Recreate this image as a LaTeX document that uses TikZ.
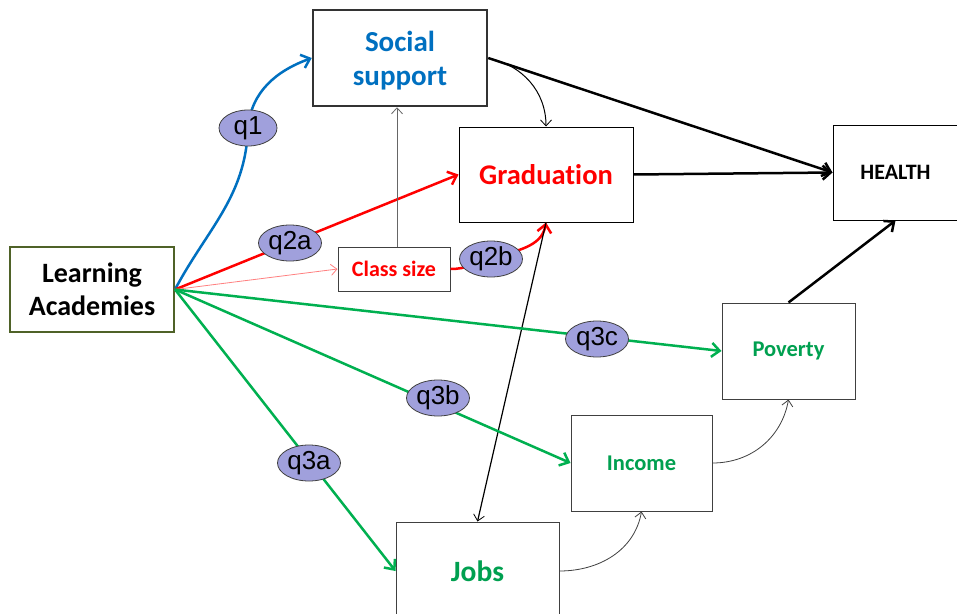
\documentclass[tikz,border=0pt]{standalone}
\usepackage{fontspec}
\setmainfont{Carlito}[Ligatures=NoCommon]
\newfontfamily\qfont{Liberation Sans}
\usetikzlibrary{shapes.geometric,arrows.meta}
\definecolor{sblue}{HTML}{0070C0}
\definecolor{gred}{HTML}{FF0000}
\definecolor{pinkline}{HTML}{FF8080}
\definecolor{gline}{HTML}{00B050}
\definecolor{gtext}{HTML}{00A050}
\definecolor{laborder}{HTML}{4F6228}
\definecolor{qfill}{HTML}{A0A0DC}
\definecolor{dgray}{HTML}{404040}
\tikzset{
  box/.style={draw, inner sep=0pt, align=center, font=\bfseries, fill=white},
  qell/.style={ellipse, draw=dgray, line width=0.8pt, fill=qfill, inner sep=0pt,
     minimum width=63pt, minimum height=36pt, font=\qfont\fontsize{26}{26}\selectfont},
  thickarr/.style={line width=2.5pt, -{Straight Barb[length=8pt,width=14pt,line width=2.5pt]}},
  thinarr/.style={line width=0.8pt, -{Straight Barb[length=6pt,width=11pt,line width=0.8pt]}},
}
\begin{document}
\begin{tikzpicture}[x=1pt,y=-1pt]
\useasboundingbox (0,0) rectangle (957,613);
\fill[white] (0,0) rectangle (957,613);

% boxes
\node[box, draw=laborder, line width=2pt, minimum width=164pt, minimum height=85pt,
  font=\bfseries\fontsize{28}{33}\selectfont] (la) at (92,289.5) {Learning\\Academies};
\node[box, draw=black!80, line width=2.5pt, minimum width=174pt, minimum height=96pt,
  text=sblue, font=\bfseries\fontsize{29}{34}\selectfont] (ss) at (400,58) {\rule{0pt}{25pt}Social\\support};
\node[box, line width=1pt, minimum width=174pt, minimum height=95pt,
  text=gred, font=\bfseries\fontsize{28.5}{33}\selectfont] (grad) at (546,174.5) {Graduation};
\node[box, draw=dgray, line width=1pt, minimum width=112pt, minimum height=44pt,
  text=gred, font=\bfseries\fontsize{22}{25}\selectfont] (cs) at (394,269) {Class size};
\node[box, line width=1pt, minimum width=125pt, minimum height=95pt,
  font=\bfseries\fontsize{22}{25}\selectfont] (health) at (895.5,172.5) {HEALTH};
\node[box, draw=dgray, line width=1pt, minimum width=133pt, minimum height=96pt,
  text=gtext, font=\bfseries\fontsize{22.5}{25}\selectfont] (pov) at (788.5,351) {Poverty};
\node[box, draw=dgray, line width=1pt, minimum width=141pt, minimum height=96pt,
  text=gtext, font=\bfseries\fontsize{22.5}{25}\selectfont] (inc) at (641.5,463) {Income};
\node[box, draw=dgray, line width=1pt, minimum width=163pt, minimum height=98pt,
  text=gtext, font=\bfseries\fontsize{29.5}{33}\selectfont] (jobs) at (477.5,571) {Jobs};

% label positions
\coordinate (q1p) at (248,128);
\coordinate (q2ap) at (290,243);
\coordinate (q2bp) at (491,259);
\coordinate (q3cp) at (597,339);
\coordinate (q3bp) at (438,398);
\coordinate (q3ap) at (309,463);

% connectors
\draw[thickarr, sblue] (la.east) to[out=62,in=-92] (q1p) to[out=85,in=200] (ss.west);
\draw[thickarr, gred] (la.east) -- (grad.west);
\draw[thinarr, pinkline] (la.east) -- (cs.west);
\draw[thinarr, black!60] ([xshift=3pt]cs.north) -- ([xshift=3pt]cs.north |- ss.south);
\draw[thickarr, gred] (cs.east) to[out=0,in=195] (q2bp) to[out=20,in=-100] (grad.south);
\draw[thinarr, black, line width=1pt] (ss.east) to[out=-12,in=90] (grad.north);
\draw[thickarr, black] (ss.east) -- (health.west);
\draw[thickarr, black] (grad.east) -- (health.west);
\draw[thinarr, black, line width=1.2pt] (grad.south) -- (jobs.north);
\draw[thickarr, gline] (la.east) -- (pov.west);
\draw[thickarr, gline] (la.east) -- (inc.west);
\draw[thickarr, gline] (la.east) -- (jobs.west);
\draw[thinarr, dgray] (jobs.east) to[out=0,in=-100] (inc.south);
\draw[thinarr, dgray] (inc.east) to[out=0,in=-100] (pov.south);
\draw[thickarr, black] (pov.north) -- (health.south);

% labels
\node[qell, minimum width=58pt] (q1) at (q1p) {q1};
\node[qell] (q2a) at (q2ap) {q2a};
\node[qell] (q2b) at (q2bp) {q2b};
\node[qell] (q3c) at (q3cp) {q3c};
\node[qell] (q3b) at (q3bp) {q3b};
\node[qell] (q3a) at (q3ap) {q3a};
\end{tikzpicture}
\end{document}
